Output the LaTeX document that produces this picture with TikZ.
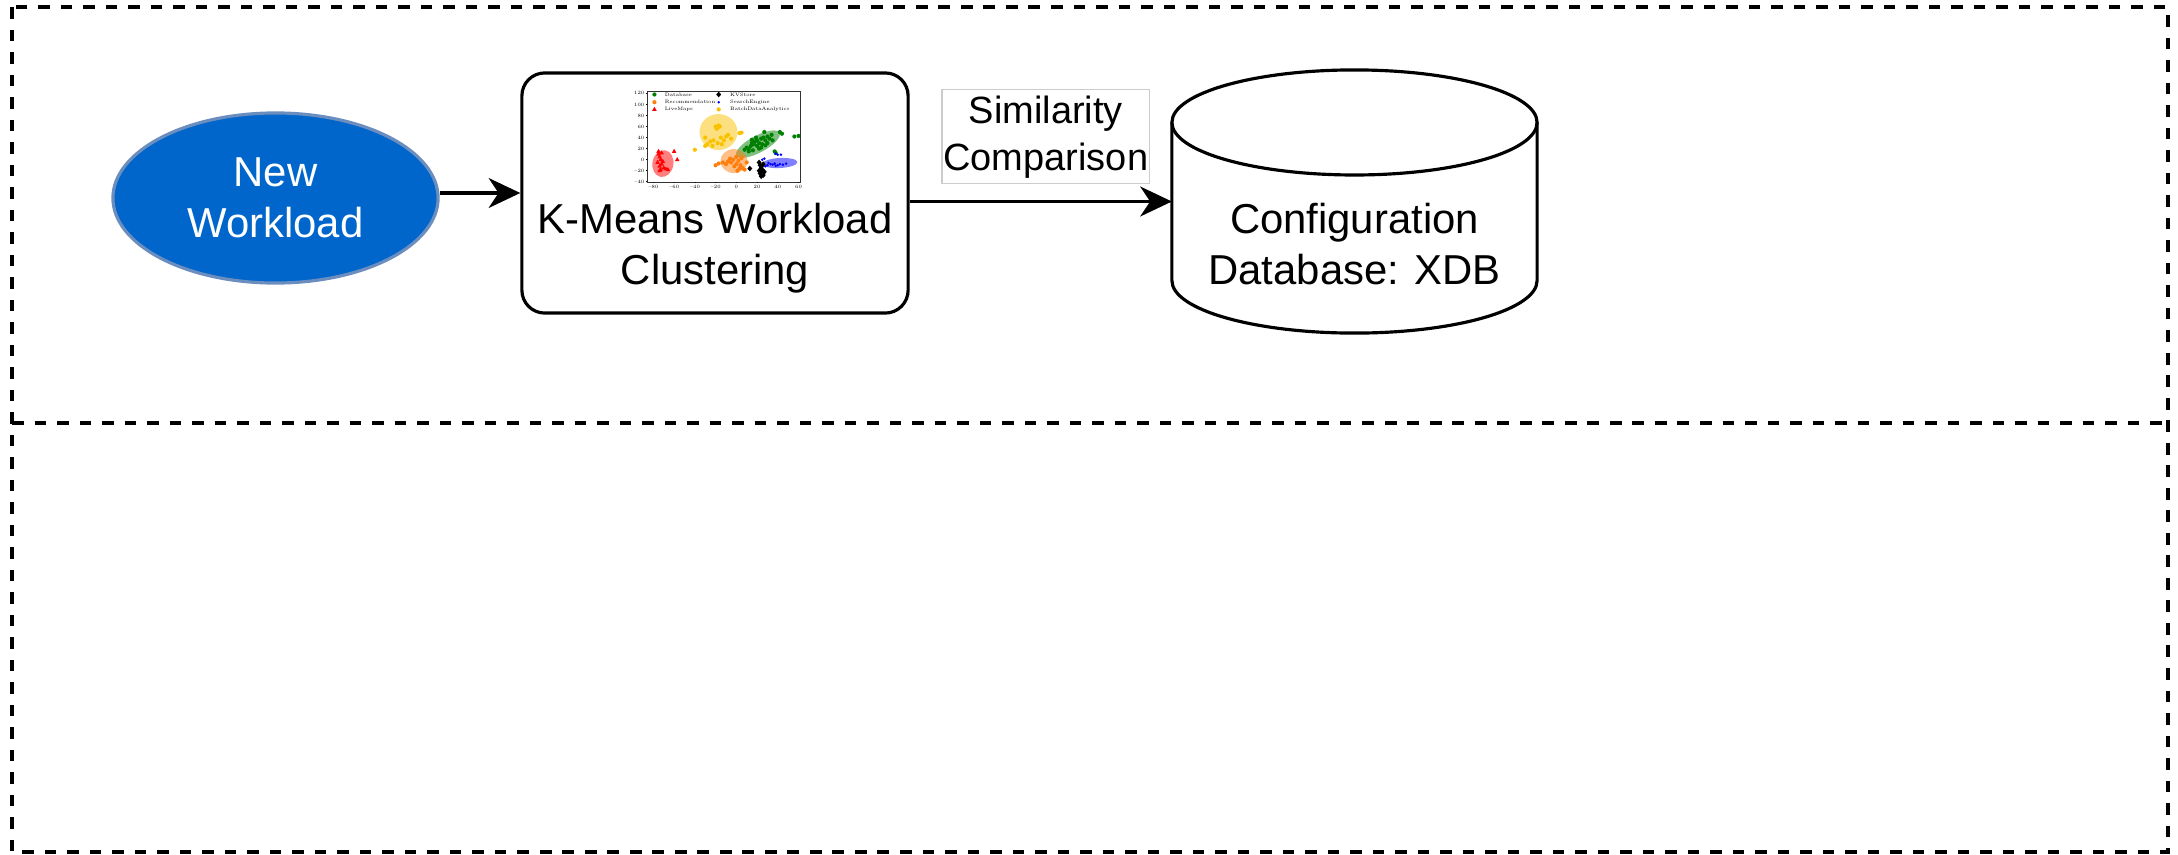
\documentclass[tikz,border=0pt]{standalone}
\usepackage{fontspec}
\setsansfont{Liberation Sans}
\usepackage{tikz}
\usetikzlibrary{shapes.geometric,arrows.meta}

\definecolor{wlblue}{HTML}{0066CC}
\definecolor{wledge}{HTML}{6C8EBF}
\definecolor{dbgreen}{HTML}{008000}
\definecolor{recorange}{HTML}{FF7F0E}
\definecolor{batchgold}{HTML}{F9C100}
\definecolor{srchblue}{HTML}{0000FF}

\newcommand{\bigtext}{\sffamily\fontsize{11.9}{14.6}\selectfont}
\newcommand{\tinytext}{\fontsize{1.4}{1.6}\selectfont}

\tikzset{
	lane/.style={line width=0.9pt,dash pattern=on 3.3pt off 3.1pt},
	flow/.style={line width=0.9pt,-{Stealth[length=9pt,width=8.5pt,inset=2.8pt]}},
	workload/.style={ellipse,draw=wledge,fill=wlblue,line width=0.9pt,text=white,
		minimum width=3.25cm,minimum height=1.7cm,inner sep=0pt,align=center,font=\bigtext},
	kmbox/.style={draw,rounded corners=6.5pt,line width=0.9pt,minimum width=3.86cm,minimum height=2.4cm},
	bigtxt/.style={inner sep=0pt,align=center,font=\bigtext},
	dbbody/.style={minimum width=3.65cm,minimum height=2.63cm,inner sep=0pt,outer sep=0pt},
	simlabel/.style={draw=black!20,line width=0.3pt,fill=white,inner xsep=0.4pt,inner ysep=1.7pt,
		align=center,font=\sffamily\fontsize{10.8}{13.3}\selectfont},
	ticklbl/.style={inner sep=0.4pt,font=\tinytext},
}

\begin{document}
\begin{tikzpicture}[x=0.01cm,y=-0.01cm]
	\useasboundingbox (0,0) rectangle (2178,854);
	\draw [lane] (12,7) rectangle (2168,852);
	\draw [lane] (12,423) -- (2168,423);

	\node [workload] (wl) at (275.5,198) {New\\Workload};
	\node [kmbox] (km) at (715,193) {};
	\node [bigtxt] (kmtxt) at (715,248) {K-Means Workload\\Clustering};

	\begin{scope}[shift={(7.359cm,-1.596cm)},x=0.010357cm,y=0.005525cm]
		\fill [batchgold,opacity=0.5] (-17.2,50) ellipse [x radius=0.19cm,y radius=0.18cm];
		\fill [dbgreen,opacity=0.5,rotate around={28:(20.9,28.2)}] (20.9,28.2) ellipse [x radius=0.244cm,y radius=0.085cm];
		\fill [recorange,opacity=0.5] (-2.3,-2.5) ellipse [x radius=0.135cm,y radius=0.12cm];
		\fill [red,opacity=0.5,rotate around={-10:(-70.8,-7)}] (-70.8,-7) ellipse [x radius=0.105cm,y radius=0.135cm];
		\fill [srchblue,opacity=0.5,rotate around={3:(42,-6)}] (42,-6) ellipse [x radius=0.175cm,y radius=0.05cm];
		\foreach \x/\y in {-20/60,-18/58,-16/60,-19/56,-17/62,-30/40,-25/33,-22/35,-15/40,-10/42,-8/45,-5/38,-28/28,-23/25,-18/30,-14/28,3/48,5/49,-40/18,-30/25,-12/35}
			\fill [batchgold] (\x,\y) circle [radius=0.6pt];
		\foreach \x/\y in {8/18,10/22,12/20,14/25,15/30,17/28,18/33,20/25,20/35,22/30,24/38,25/28,26/40,28/35,30/42,32/38,34/45,12/15,16/17,22/20,27/50,42/50,44/47,56/42,60/43,37/15,38/12,15/36,19/40,30/30,35/35,24/22,28/26}
			\fill [dbgreen] (\x,\y) circle [radius=0.6pt];
		\foreach \x/\y in {-5/-5,-3/0,0/5,2/-2,4/-10,-2/-12,6/-15,8/-18,3/-16,0/-8,-6/2,-8/-3,10/-5,5/3,-20/-10,-17/-7,-13/-5,-10/-8,1/-20}
			\fill [recorange] (\x,\y) circle [radius=0.6pt];
		\foreach \x/\y in {-75/10,-74/5,-73/0,-76/-5,-72/-8,-74/-12,-70/-15,-68/-17,-73/-18,-71/-3,-75/15,-72/12,-66/-18,-60/15,-57/0,-74/-20}
			\fill [red] (\x,\y) ++(0,0.75pt) -- ++(-0.65pt,-1.15pt) -- ++(1.3pt,0) -- cycle;
		\foreach \x/\y in {30/-10,33/-8,35/-9,37/-7,40/-10,42/-8,45/-9,38/-11,28/-12,31/-6,40/9,43/9,25/0,27/2,38/11,48/-7}
			\fill [srchblue] (\x,\y) circle [radius=0.4pt];
		\foreach \x/\y in {22/-5,23/-10,24/-15,25/-20,23/-25,26/-28,24/-30,25/-18,22/-20,27/-22,24/-12,13/-16,26/-8}
			\fill [black] (\x,\y) ++(0,0.8pt) -- ++(0.7pt,-0.8pt) -- ++(-0.7pt,-0.8pt) -- ++(-0.7pt,0.8pt) -- cycle;
		\draw [line width=0.3pt,black!80] (-85.8,-40.5) rectangle (62,124);
		\foreach \v/\t in {120/120,100/100,80/80,60/60,40/40,20/20,0/0,-20/--20,-40/--40}
			\draw [line width=0.2pt] (-85.8,\v) -- ++(-0.4pt,0) node [ticklbl,left] {\t};
		\foreach \v/\t in {-80/--80,-60/--60,-40/--40,-20/--20,0/0,20/20,40/40,60/60}
			\draw [line width=0.2pt] (\v,-40.5) -- ++(0,-0.4pt) node [ticklbl,below] {\t};
		\fill [dbgreen] (-79,118) circle [radius=0.6pt];
		\node [ticklbl,anchor=west] at (-71,118) {Database};
		\fill [recorange] (-79,104) circle [radius=0.6pt];
		\node [ticklbl,anchor=west] at (-71,104) {Recommendation};
		\fill [red] (-79,91) ++(0,0.75pt) -- ++(-0.65pt,-1.15pt) -- ++(1.3pt,0) -- cycle;
		\node [ticklbl,anchor=west] at (-71,91) {LiveMaps};
		\fill [black] (-17,118) ++(0,0.8pt) -- ++(0.7pt,-0.8pt) -- ++(-0.7pt,-0.8pt) -- ++(-0.7pt,0.8pt) -- cycle;
		\node [ticklbl,anchor=west] at (-8,118) {KVStore};
		\fill [srchblue] (-17,104) circle [radius=0.4pt];
		\node [ticklbl,anchor=west] at (-8,104) {SearchEngine};
		\fill [batchgold] (-17,91) circle [radius=0.6pt];
		\node [ticklbl,anchor=west] at (-8,91) {BatchDataAnalytics};
	\end{scope}

	\node [dbbody] (xdb) at (1354.5,201.5) {};
	\draw [line width=0.9pt] ([yshift=-0.525cm]xdb.north) ellipse [x radius=1.825cm,y radius=0.525cm];
	\draw [line width=0.9pt] ([yshift=-0.525cm]xdb.north west) -- ([yshift=0.525cm]xdb.south west)
		arc [start angle=180,end angle=360,x radius=1.825cm,y radius=0.525cm] -- ([yshift=-0.525cm]xdb.north east);
	\node [bigtxt] (xdbtxt) at (1354.5,244) {Configuration\\Database: XDB};

	\draw [flow] (wl.east |- km.west) -- (km.west);
	\draw [flow] (km.east |- xdb.west) -- node [simlabel,above=0.17cm,xshift=0.05cm] {Similarity\\Comparison} (xdb.west);
\end{tikzpicture}
\end{document}
